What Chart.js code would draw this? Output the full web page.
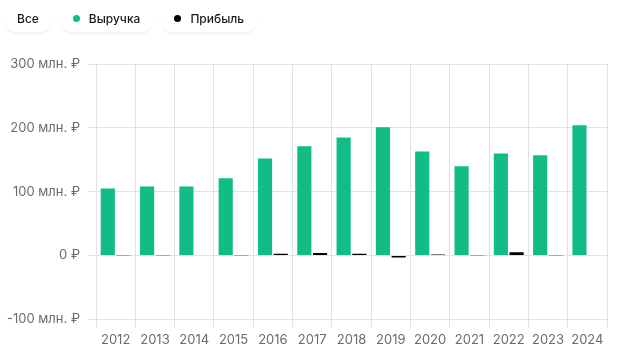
<!DOCTYPE html>
<html>
<head>
  <meta charset="UTF-8">
  <title>Выручка и прибыль</title>
  <script src="https://cdn.jsdelivr.net/npm/chart.js"></script>
  <style>
    body { margin: 0; background: #fff; font-family: Inter, "Noto Sans", sans-serif; }
    #wrap { position: relative; width: 619px; height: 358px; }
    #legend { position: absolute; top: 4px; left: 5px; display: flex; gap: 10px; z-index: 2; }
    .pill { display: flex; align-items: center; height: 28px; padding: 0 12px; border-radius: 10px;
            box-shadow: 0 2px 2px rgba(0,0,0,0.05); font-size: 12px; font-weight: 500; color: #1a1a1a; background: #fff; }
    .dot { width: 7px; height: 7px; border-radius: 50%; margin-right: 9px; }
    canvas { position: absolute; top: 0; left: 0; }
  </style>
</head>
<body>
<div id="wrap">
  <div id="legend">
    <div class="pill">Все</div>
    <div class="pill"><span class="dot" style="background:#12bc87"></span>Выручка</div>
    <div class="pill"><span class="dot" style="background:#000"></span>Прибыль</div>
  </div>
  <canvas id="chart" width="619" height="358"></canvas>
</div>
<script>
  // данные, млн. ₽
  const years = ['2012','2013','2014','2015','2016','2017','2018','2019','2020','2021','2022','2023','2024'];
  const revenue = [105, 108, 108, 121, 152, 171, 185, 201, 163, 140, 160, 157, 204];
  const profit = [0.3, 0.3, 1, 0.3, 3, 4, 3, -3, 1.5, 0.6, 5, 0.4, 1];

  new Chart(document.getElementById('chart'), {
    type: 'bar',
    data: {
      labels: years,
      datasets: [
        { label: 'Выручка', data: revenue, backgroundColor: '#12bc87', categoryPercentage: 0.8, barPercentage: 0.9 },
        { label: 'Прибыль', data: profit, backgroundColor: '#000', categoryPercentage: 0.8, barPercentage: 0.9 }
      ]
    },
    options: {
      responsive: false,
      animation: false,
      layout: { padding: { top: 64, right: 12, bottom: 5, left: 0 } },
      plugins: { legend: { display: false }, tooltip: { enabled: false } },
      scales: {
        x: {
          grid: { offset: true, color: '#e2e2e2', tickLength: 8 },
          border: { display: false },
          ticks: { color: '#6b6b6b', font: { family: 'Inter', size: 13 }, padding: 5 }
        },
        y: {
          min: -100, max: 300,
          grid: { color: '#e2e2e2', drawTicks: true, tickLength: 8 },
          border: { display: false },
          afterFit: (axis) => { axis.width = 96; },
          ticks: {
            stepSize: 100,
            color: '#6b6b6b',
            font: { family: 'Inter', size: 13 },
            padding: 8,
            callback: (v) => v === 0 ? '0 ₽' : v + ' млн. ₽'
          }
        }
      }
    }
  });
</script>
</body>
</html>
